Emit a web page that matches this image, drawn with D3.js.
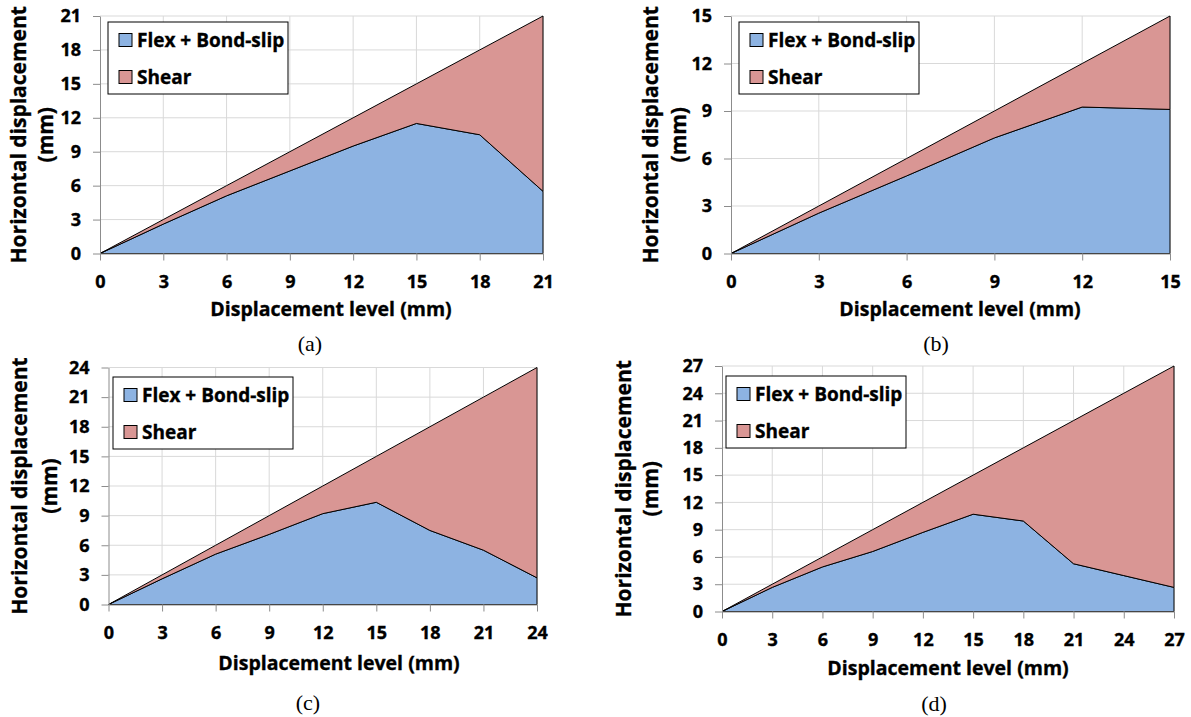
<!DOCTYPE html>
<html>
<head>
<meta charset="utf-8">
<script src="https://cdn.jsdelivr.net/npm/d3@7"></script>
<style>
  body { margin: 0; background: #fff; }
  svg text { font-family: "Open Sans", Lato, sans-serif; font-weight: bold; fill: #000; stroke: #000; stroke-width: 0.35px; }
  .caption { font-family: "Liberation Serif", "DejaVu Serif", serif !important; font-weight: normal !important; stroke: none !important; }
</style>
</head>
<body>
<div id="chart"></div>
<script>
// displacement levels (mm) per panel
const levelsA = [0, 3, 6, 9, 12, 15, 18, 21];
const levelsB = [0, 3, 6, 9, 12, 15];
const levelsC = [0, 3, 6, 9, 12, 15, 18, 21, 24];
const levelsD = [0, 3, 6, 9, 12, 15, 18, 21, 24, 27];

// flexure + bond-slip component (mm)
const flexA = [0, 2.6, 5.1, 7.3, 9.5, 11.5, 10.5, 5.5];
const flexB = [0, 2.55, 4.9, 7.3, 9.25, 9.1];
const flexC = [0, 2.6, 5.1, 7.1, 9.2, 10.35, 7.5, 5.5, 2.7];
const flexD = [0, 2.65, 4.9, 6.6, 8.7, 10.7, 9.95, 5.25, 3.95, 2.65];

// shear component (mm)
const shearA = [0, 0.4, 0.9, 1.7, 2.5, 3.5, 7.5, 15.5];
const shearB = [0, 0.45, 1.1, 1.7, 2.75, 5.9];
const shearC = [0, 0.4, 0.9, 1.9, 2.8, 4.65, 10.5, 15.5, 21.3];
const shearD = [0, 0.35, 1.1, 2.4, 3.3, 4.3, 8.05, 15.75, 20.05, 24.35];

// tick labels
const ticksA = [0, 3, 6, 9, 12, 15, 18, 21];
const ticksB = [0, 3, 6, 9, 12, 15];
const ticksC = [0, 3, 6, 9, 12, 15, 18, 21, 24];
const ticksD = [0, 3, 6, 9, 12, 15, 18, 21, 24, 27];

const seriesNames = ["Flex + Bond-slip", "Shear"];
const colors = ["#8DB3E2", "#D99694"];
const captions = ["(a)", "(b)", "(c)", "(d)"];

const panels = [
  {levels: levelsA, flex: flexA, shear: shearA, ticks: ticksA, cap: captions[0],
   x0: 100, x1: 543, y0: 253.5, y1: 16, yl1: 19, yl2: 46, xlx: 331, xly: 309, leg: [108, 22], capx: 310, capy: 343},
  {levels: levelsB, flex: flexB, shear: shearB, ticks: ticksB, cap: captions[1],
   x0: 731, x1: 1170, y0: 253.5, y1: 16, yl1: 651, yl2: 679, xlx: 960, xly: 309, leg: [739, 22], capx: 936, capy: 343},
  {levels: levelsC, flex: flexC, shear: shearC, ticks: ticksC, cap: captions[2],
   x0: 108.5, x1: 537, y0: 604.5, y1: 367.5, yl1: 20, yl2: 50, xlx: 339, xly: 663, leg: [113, 377], capx: 308, capy: 702},
  {levels: levelsD, flex: flexD, shear: shearD, ticks: ticksD, cap: captions[3],
   x0: 722, x1: 1174, y0: 611.5, y1: 366, yl1: 624, yl2: 651, xlx: 948, xly: 668, leg: [726, 376], capx: 934, capy: 703}
];

const svg = d3.select("#chart").append("svg")
  .attr("width", 1191).attr("height", 717);

panels.forEach(p => {
  const max = p.ticks[p.ticks.length - 1];
  const x = d3.scaleLinear().domain([0, max]).range([p.x0, p.x1]);
  const y = d3.scaleLinear().domain([0, max]).range([p.y0, p.y1]);
  const g = svg.append("g");

  // gridlines
  g.selectAll(".gx").data(p.ticks.slice(1)).join("line")
    .attr("x1", d => x(d)).attr("x2", d => x(d))
    .attr("y1", p.y0).attr("y2", p.y1)
    .attr("stroke", "#d9d9d9").attr("stroke-width", 1);
  g.selectAll(".gy").data(p.ticks.slice(1)).join("line")
    .attr("x1", p.x0).attr("x2", p.x1)
    .attr("y1", d => y(d)).attr("y2", d => y(d))
    .attr("stroke", "#d9d9d9").attr("stroke-width", 1);

  // stacked areas
  const rows = p.levels.map((l, i) => ({level: l, flex: p.flex[i], shear: p.shear[i]}));
  const stacked = d3.stack().keys(["flex", "shear"])(rows);
  const area = d3.area()
    .x(d => x(d.data.level))
    .y0(d => y(d[0]))
    .y1(d => y(d[1]));
  g.selectAll(".ar").data(stacked).join("path")
    .attr("d", area)
    .attr("fill", (d, i) => colors[i])
    .attr("stroke", "#000").attr("stroke-width", 1)
    .attr("stroke-linejoin", "round");

  // axes
  const ax = g.append("g").attr("transform", `translate(0,${p.y0})`)
    .call(d3.axisBottom(x).tickValues(p.ticks).tickSize(7).tickSizeOuter(0).tickPadding(15));
  const ay = g.append("g").attr("transform", `translate(${p.x0},0)`)
    .call(d3.axisLeft(y).tickValues(p.ticks).tickSize(7).tickSizeOuter(0).tickPadding(12));
  [ax, ay].forEach(a => {
    a.select(".domain").attr("stroke", "#8c8c8c");
    a.selectAll(".tick line").attr("stroke", "#8c8c8c");
    a.selectAll(".tick text").style("font-size", "18px").attr("fill", "#000");
  });

  // axis titles
  g.append("text").attr("x", p.xlx).attr("y", p.xly).attr("dy", "0.35em")
    .attr("text-anchor", "middle").style("font-size", "19.5px")
    .text("Displacement level (mm)");
  const cy = (p.y0 + p.y1) / 2;
  g.append("text").attr("transform", `translate(${p.yl1},${cy}) rotate(-90)`).attr("dy", "0.35em")
    .attr("text-anchor", "middle").style("font-size", "21px")
    .text("Horizontal displacement");
  g.append("text").attr("transform", `translate(${p.yl2},${cy}) rotate(-90)`).attr("dy", "0.35em")
    .attr("text-anchor", "middle").style("font-size", "21px")
    .text("(mm)");

  // legend
  const lg = g.append("g").attr("transform", `translate(${p.leg[0]},${p.leg[1]})`);
  lg.append("rect").attr("width", 180).attr("height", 72)
    .attr("fill", "#fff").attr("stroke", "#000").attr("stroke-width", 1);
  seriesNames.forEach((n, i) => {
    const yy = 18 + i * 37;
    lg.append("rect").attr("x", 11).attr("y", yy - 6.5).attr("width", 13).attr("height", 13)
      .attr("fill", colors[i]).attr("stroke", "#000").attr("stroke-width", 1);
    lg.append("text").attr("x", 29).attr("y", yy).attr("dy", "0.35em")
      .style("font-size", "19px").text(n);
  });

  // caption
  g.append("text").attr("class", "caption").attr("x", p.capx).attr("y", p.capy).attr("dy", "0.35em")
    .attr("text-anchor", "middle").style("font-size", "22px").text(p.cap);
});
</script>
</body>
</html>
